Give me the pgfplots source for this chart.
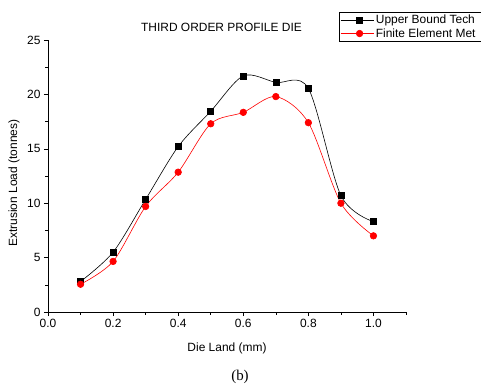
\documentclass[border=0pt]{standalone}
\usepackage{pgfplots}
\pgfplotsset{compat=1.18}
\usepackage{fontspec}
\setmainfont{Liberation Sans}
\newfontfamily\seriffont{Liberation Serif}

\begin{document}
\begin{tikzpicture}
\begin{axis}[
  at={(0,0)}, anchor=south west,
  scale only axis, width=358bp, height=272bp,
  xmin=0, xmax=1.1, ymin=0, ymax=25,
  axis x line=bottom, axis y line=left,
  axis line style={-, line width=0.6bp, black},
  xtick={0,0.2,0.4,0.6,0.8,1.0},
  minor xtick={0.1,0.3,0.5,0.7,0.9,1.1},
  ytick={0,5,10,15,20,25},
  minor ytick={2.5,7.5,12.5,17.5,22.5},
  tick align=outside,
  major tick length=4bp, minor tick length=2.5bp,
  every tick/.style={black, line width=0.6bp},
  /pgf/number format/assume math mode=true,
  x tick label style={/pgf/number format/.cd, fixed, fixed zerofill, precision=1, assume math mode=true},
  y tick label style={/pgf/number format/.cd, fixed, precision=0, assume math mode=true},
  tick label style={font=\fontsize{12}{14}\selectfont},
  xlabel={Die Land (mm)},
  ylabel={Extrusion Load (tonnes)},
  label style={font=\fontsize{12}{14}\selectfont},
  xlabel style={at={(axis description cs:0.5,-0.1324)}, anchor=center},
  ylabel style={at={(axis description cs:-0.095,0.474)}, anchor=center},
  title={THIRD ORDER PROFILE DIE},
  title style={at={(axis description cs:0.4846,1.024)}, anchor=center, font=\fontsize{12}{14}\selectfont},
  legend style={at={(axis description cs:0.8128,1.1029)}, anchor=north west,
    draw=black, line width=0.6bp, fill=white,
    font=\fontsize{12}{14}\selectfont, inner sep=1bp, row sep=-1bp,
    cells={anchor=west}},
  legend image code/.code={\path (0bp,0bp) -- (33bp,0bp);\draw[mark repeat=2, mark phase=2, #1] plot coordinates {(5bp,0bp) (19bp,0bp) (33bp,0bp)};},
  clip=false,
]
\addplot[black, line width=0.6bp, smooth, tension=0.5, mark=square*, mark size=3bp, mark options={solid, fill=black}]
  coordinates {(0.1,2.8)(0.2,5.5)(0.3,10.35)(0.4,15.2)(0.5,18.45)(0.6,21.7)(0.7,21.1)(0.8,20.55)(0.9,10.7)(1.0,8.3)};
\addlegendentry{Upper Bound Tech\hspace*{20bp}}
\addplot[red, line width=0.6bp, smooth, tension=0.5, mark=*, mark size=3.3bp, mark options={solid, fill=red}]
  coordinates {(0.1,2.55)(0.2,4.65)(0.3,9.7)(0.4,12.85)(0.5,17.3)(0.6,18.35)(0.7,19.8)(0.8,17.4)(0.9,10.0)(1.0,7.0)};
\addlegendentry{Finite Element Met}
\end{axis}
\node[font=\seriffont\fontsize{15}{18}\selectfont] at (192bp,-65bp) {(b)};
\pgfresetboundingbox
\path[use as bounding box] (-48bp,-76bp) rectangle (433bp,312bp);
\end{tikzpicture}
\end{document}
